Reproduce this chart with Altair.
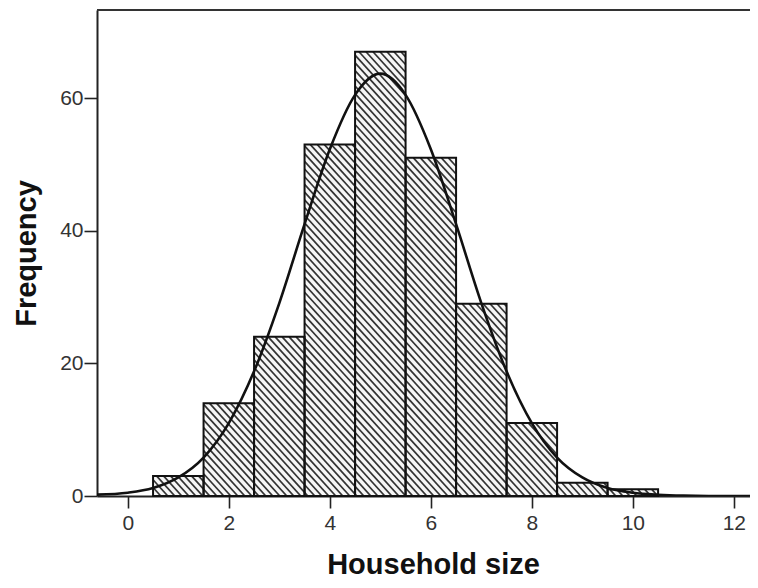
import altair as alt
import pandas as pd

# ---- data ----
household_size = [1, 2, 3, 4, 5, 6, 7, 8, 9, 10]
frequency = [3, 14, 24, 53, 67, 51, 29, 11, 2, 1]

curve_x = [-0.61, 0.0, 0.5, 1.0, 1.5, 2.0, 2.5, 3.0, 3.5, 4.0, 4.5, 5.0, 5.5, 6.0,
           6.5, 7.0, 7.5, 8.0, 8.5, 9.0, 9.5, 10.0, 10.5, 11.0, 11.5, 12.32]
curve_y = [0.2, 0.5, 1.2, 2.8, 5.8, 11.0, 18.8, 29.1, 41.0, 52.3, 60.5, 63.7, 60.5, 52.3,
           41.0, 29.1, 18.8, 11.0, 5.8, 2.8, 1.2, 0.5, 0.2, 0.05, 0.0, 0.0]

x_ticks = [0, 2, 4, 6, 8, 10, 12]
y_ticks = [0, 20, 40, 60]

# ---- layout ----
W, H = 653, 486
XMIN, XMAX = -0.61, 12.32
YMIN, YMAX = 0, 73.3

bars = pd.DataFrame({
    "x0": [c - 0.5 for c in household_size],
    "x1": [c + 0.5 for c in household_size],
    "freq": frequency,
})

# hatch lines (pattern fill) derived from the bars
kx = W / (XMAX - XMIN)
ky = H / (YMAX - YMIN)
slope = 1.1      # pixel slope, going down to the right
step = 7.0       # horizontal spacing in pixels
dc = slope * step
rows = []
for c, f in zip(household_size, frequency):
    X0 = (c - 0.5 - XMIN) * kx
    X1 = (c + 0.5 - XMIN) * kx
    Yt = (YMAX - f) * ky
    Yb = (YMAX - 0) * ky
    cmin = Yt - slope * X1
    cmax = Yb - slope * X0
    n0 = int(cmin // dc) - 1
    n1 = int(cmax // dc) + 1
    for n in range(n0, n1 + 1):
        C = n * dc
        a = max(X0, (Yt - C) / slope)
        b = min(X1, (Yb - C) / slope)
        if b - a <= 0.3:
            continue
        ya = slope * a + C
        yb = slope * b + C
        rows.append({
            "hx": XMIN + a / kx, "hy": YMAX - ya / ky,
            "hx2": XMIN + b / kx, "hy2": YMAX - yb / ky,
        })
hatch = pd.DataFrame(rows)

curve = pd.DataFrame({"x": curve_x, "y": curve_y})

xscale = alt.Scale(domain=[XMIN, XMAX], nice=False, zero=False)
yscale = alt.Scale(domain=[YMIN, YMAX], nice=False, zero=False)

xaxis = alt.Axis(values=x_ticks, title="Household size", grid=False, tickSize=12,
                 labelPadding=4, titleY=77, titleX=336, titleAlign="center",
                 titleBaseline="alphabetic", format="d")
yaxis = alt.Axis(values=y_ticks, title="Frequency", grid=False, tickSize=13,
                 labelPadding=1, titleX=-62, titleBaseline="alphabetic", format="d")

fill = alt.Chart(bars).mark_rect(fill="#f6f6f6", strokeWidth=0).encode(
    x=alt.X("x0:Q", scale=xscale, axis=xaxis),
    x2="x1:Q",
    y=alt.Y("freq:Q", scale=yscale, axis=yaxis),
    y2=alt.datum(0),
)

hatch_layer = alt.Chart(hatch).mark_rule(color="#333333", strokeWidth=1.7, clip=True).encode(
    x=alt.X("hx:Q", scale=xscale),
    x2="hx2:Q",
    y=alt.Y("hy:Q", scale=yscale),
    y2="hy2:Q",
)

outline = alt.Chart(bars).mark_rect(fillOpacity=0, stroke="#111111", strokeWidth=2).encode(
    x=alt.X("x0:Q", scale=xscale),
    x2="x1:Q",
    y=alt.Y("freq:Q", scale=yscale),
    y2=alt.datum(0),
)

line = alt.Chart(curve).mark_line(color="#111111", strokeWidth=2.6,
                                  interpolate="monotone", clip=True).encode(
    x=alt.X("x:Q", scale=xscale),
    y=alt.Y("y:Q", scale=yscale),
)

top_frame = alt.Chart(bars).mark_rule(color="#333333", strokeWidth=2).encode(
    x=alt.value(0), x2=alt.value(W), y=alt.value(0)
)

chart = alt.layer(fill, hatch_layer, outline, line, top_frame).properties(
    width=W, height=H,
    autosize=alt.AutoSizeParams(type="none"),
    padding={"left": 89, "top": 2, "right": 0, "bottom": 84},
).configure_view(stroke="transparent", strokeWidth=0).configure_axis(
    domainColor="#222222", domainWidth=2,
    tickColor="#222222", tickWidth=1.6,
    labelFont="Liberation Sans", labelFontSize=21, labelColor="#333333",
    titleFont="Liberation Sans", titleFontSize=29, titleFontWeight="bold",
    titleColor="#111111",
)

chart.save("out.html", embed_options={"renderer": "svg", "actions": False})
